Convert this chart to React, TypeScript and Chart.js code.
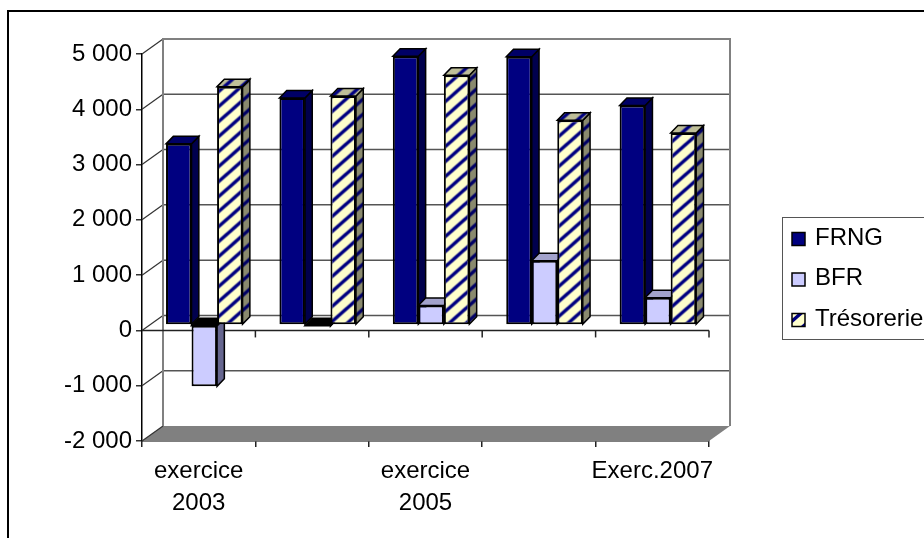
import React, { useEffect, useRef } from "react";
import { Chart, registerables } from "chart.js";

Chart.register(...registerables);

const WIDTH = 924;
const HEIGHT = 538;

const categories = ["exercice 2003", "exercice 2004", "exercice 2005", "exercice 2006", "Exerc.2007"];
const frng = [3275, 4105, 4860, 4850, 3970];
const bfr = [-1110, -20, 350, 1160, 490];
const tresorerie = [4310, 4140, 4515, 3700, 3470];

const AREA = { left: 142, right: 709, top: 54, bottom: 441 };
const WALL = { dx: 21, dy: 15 };
const BAR_SHIFT = { x: 5.6, y: -5.5 };
const BAR_DEPTH = { dx: 7.3, dy: 7.5 };
const LABEL_FONT = { family: "'Liberation Sans', Arial, sans-serif", size: 24, lineHeight: 1.35 };

function stripes(ctx: CanvasRenderingContext2D, bg: string, fg: string): CanvasPattern {
  const w = 17;
  const h = 15;
  const tile = document.createElement("canvas");
  tile.width = w;
  tile.height = h;
  const t = tile.getContext("2d")!;
  t.fillStyle = bg;
  t.fillRect(0, 0, w, h);
  t.strokeStyle = fg;
  t.lineWidth = 3.4;
  for (const o of [-1, 0, 1]) {
    t.beginPath();
    t.moveTo(o * w - 5, h + 4.4);
    t.lineTo(o * w + w + 5, -4.4);
    t.stroke();
  }
  return ctx.createPattern(tile, "repeat")!;
}

function formatThousands(v: number): string {
  const abs = Math.abs(v);
  const text = abs >= 1000 ? `${Math.floor(abs / 1000)} ${String(abs % 1000).padStart(3, "0")}` : String(abs);
  return (v < 0 ? "-" : "") + text;
}

function wrapLabel(label: string): string | string[] {
  return label.includes(" ") ? label.split(" ") : label;
}

export default function App() {
  const ref = useRef<HTMLCanvasElement>(null);

  useEffect(() => {
    const canvas = ref.current!;
    const ctx = canvas.getContext("2d")!;
    const trFront = stripes(ctx, "#FFFFCC", "#000080");
    const trSide = stripes(ctx, "#8A8A6E", "#000066");
    const trTop = stripes(ctx, "#BFBF99", "#000080");

    const faces = [
      { side: "#00004D", top: "#000066" },
      { side: "#66668F", top: "#A3A3CC" },
      { side: trSide, top: trTop },
    ];

    // Walls, floor, gridlines and the zero axis sit behind the bars.
    const scenery = {
      id: "scenery",
      beforeDraw(chart: Chart) {
        const c = chart.ctx;
        c.save();
        c.strokeStyle = "#000";
        c.lineWidth = 2;
        c.strokeRect(8, 11, WIDTH + 20, HEIGHT + 20);
        c.restore();
      },
      beforeDatasetsDraw(chart: Chart) {
        const c = chart.ctx;
        const { left, right, top, bottom } = chart.chartArea;
        const y = chart.scales.y;
        const x = chart.scales.x;
        c.save();

        c.fillStyle = "#808080";
        c.beginPath();
        c.moveTo(left, bottom);
        c.lineTo(right, bottom);
        c.lineTo(right + WALL.dx, bottom - WALL.dy);
        c.lineTo(left + WALL.dx, bottom - WALL.dy);
        c.closePath();
        c.fill();

        y.ticks.forEach((tick) => {
          const py = y.getPixelForValue(tick.value);
          c.strokeStyle = "#333";
          c.lineWidth = 1.2;
          c.beginPath();
          c.moveTo(left, py);
          c.lineTo(left + WALL.dx, py - WALL.dy);
          c.stroke();
          if (tick.value > y.min && tick.value < y.max) {
            c.strokeStyle = "#555";
            c.lineWidth = 1.5;
            c.beginPath();
            c.moveTo(left + WALL.dx, py - WALL.dy);
            c.lineTo(right + WALL.dx, py - WALL.dy);
            c.stroke();
          }
        });

        c.strokeStyle = "#808080";
        c.lineWidth = 2;
        c.beginPath();
        c.moveTo(left + WALL.dx, bottom - WALL.dy);
        c.lineTo(left + WALL.dx, top - WALL.dy);
        c.lineTo(right + WALL.dx, top - WALL.dy);
        c.lineTo(right + WALL.dx, bottom - WALL.dy);
        c.stroke();

        const zero = y.getPixelForValue(0);
        c.strokeStyle = "#222";
        c.lineWidth = 1.5;
        c.beginPath();
        c.moveTo(left, zero);
        c.lineTo(right, zero);
        c.stroke();
        for (let i = 1; i <= categories.length; i++) {
          const px = left + (i * (x.right - x.left)) / categories.length;
          c.beginPath();
          c.moveTo(px, zero);
          c.lineTo(px, zero + 7);
          c.stroke();
        }

        // Bars stand partway into the depth of the box; their sides and tops go down first.
        c.translate(BAR_SHIFT.x, BAR_SHIFT.y);
        chart.data.datasets.forEach((_, di) => {
          chart.getDatasetMeta(di).data.forEach((el: any, i: number) => {
            const value = chart.data.datasets[di].data[i] as number;
            const l = el.x - el.width / 2;
            const r = el.x + el.width / 2;
            const t = Math.min(el.y, el.base);
            const b = Math.max(el.y, el.base);
            c.strokeStyle = "#000";
            c.lineWidth = 1.5;
            c.lineJoin = "miter";
            c.fillStyle = faces[di].side as any;
            c.beginPath();
            c.moveTo(r, t);
            c.lineTo(r + BAR_DEPTH.dx, t - BAR_DEPTH.dy);
            c.lineTo(r + BAR_DEPTH.dx, b - BAR_DEPTH.dy);
            c.lineTo(r, b);
            c.closePath();
            c.fill();
            c.stroke();
            c.fillStyle = (value < 0 ? "#000" : faces[di].top) as any;
            c.beginPath();
            c.moveTo(l, t);
            c.lineTo(l + BAR_DEPTH.dx, t - BAR_DEPTH.dy);
            c.lineTo(r + BAR_DEPTH.dx, t - BAR_DEPTH.dy);
            c.lineTo(r, t);
            c.closePath();
            c.fill();
            c.stroke();
          });
        });
        // The translation stays on for the bar fronts and is lifted in afterDatasetsDraw.
      },
      afterDatasetsDraw(chart: Chart) {
        const c = chart.ctx;
        c.restore();
      },
      afterDraw(chart: Chart) {
        const c = chart.ctx;
        c.save();
        c.strokeStyle = "#555";
        c.lineWidth = 1;
        c.fillStyle = "#fff";
        c.fillRect(782.5, 217.5, WIDTH, 122);
        c.strokeRect(782.5, 217.5, WIDTH, 122);
        c.font = `${LABEL_FONT.size}px ${LABEL_FONT.family}`;
        c.textBaseline = "middle";
        chart.data.datasets.forEach((ds: any, i) => {
          const cy = 239 + i * 40.5;
          c.fillStyle = ds.backgroundColor;
          c.fillRect(792, cy - 6.5, 13, 13);
          c.strokeStyle = "#000";
          c.lineWidth = 1.5;
          c.strokeRect(792, cy - 6.5, 13, 13);
          c.fillStyle = "#000";
          c.fillText(ds.label, 815, cy - 1);
        });
        c.restore();
      },
    };

    const border = { color: "#000", width: 1.5 };
    const chart = new Chart(canvas, {
      type: "bar",
      data: {
        labels: categories,
        datasets: [
          { label: "FRNG", data: frng, backgroundColor: "#000080" },
          { label: "BFR", data: bfr, backgroundColor: "#CCCCFF" },
          { label: "Trésorerie", data: tresorerie, backgroundColor: trFront as any },
        ],
      },
      options: {
        responsive: false,
        animation: false,
        layout: {
          padding: { left: 0, top: AREA.top, right: WIDTH - AREA.right, bottom: 0 },
        },
        datasets: {
          bar: {
            categoryPercentage: 0.675,
            barPercentage: 1,
            borderColor: "#000",
            borderWidth: 2,
            borderSkipped: false,
            clip: false as any,
          },
        },
        plugins: { legend: { display: false }, tooltip: { enabled: false }, title: { display: false } },
        scales: {
          x: {
            offset: true,
            afterFit: (scale: any) => {
              scale.height = HEIGHT - AREA.bottom;
            },
            border,
            grid: {
              offset: true,
              drawOnChartArea: false,
              drawTicks: true,
              tickLength: 6,
              color: "#222",
              lineWidth: 1.5,
            },
            ticks: {
              color: "#000",
              font: LABEL_FONT,
              maxRotation: 0,
              autoSkip: false,
              padding: 8,
              callback: (_v: any, i: number) => (i % 2 === 0 ? wrapLabel(categories[i]) : ""),
            },
          },
          y: {
            min: -2000,
            max: 5000,
            afterFit: (scale: any) => {
              scale.width = AREA.left;
            },
            border,
            grid: { drawOnChartArea: false, drawTicks: true, tickLength: 6, color: "#333", lineWidth: 1.5 },
            ticks: {
              stepSize: 1000,
              color: "#000",
              font: LABEL_FONT,
              padding: 4,
              callback: (v: any) => formatThousands(Number(v)),
            },
          },
        },
      },
      plugins: [scenery as any],
    });
    return () => chart.destroy();
  }, []);

  return (
    <div style={{ position: "fixed", left: 0, top: 0, width: WIDTH, height: HEIGHT, overflow: "hidden", background: "#fff" }}>
      <canvas ref={ref} width={WIDTH} height={HEIGHT} style={{ display: "block" }} />
    </div>
  );
}
